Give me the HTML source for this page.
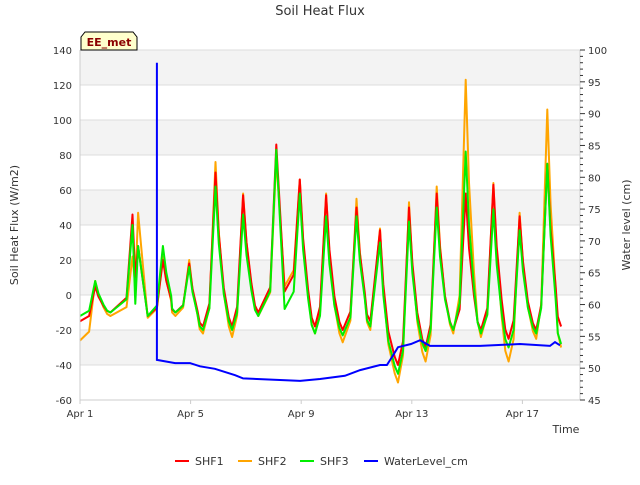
<!DOCTYPE html>
<html><head><meta charset="utf-8"><style>
body{margin:0;background:#fff;font-family:"Liberation Sans","DejaVu Sans",sans-serif}
svg text{font-family:"DejaVu Sans","Liberation Sans",sans-serif}
</style></head><body>
<svg id="chart" width="640" height="480" viewBox="0 0 640 480">
<text x="320" y="15" text-anchor="middle" font-size="13" fill="#333">Soil Heat Flux</text>
<g id="bands"></g>
<g id="grid"></g>
<g id="series"></g>
<g id="axes"></g>
<text transform="translate(18,225) rotate(-90)" text-anchor="middle" font-size="11" fill="#333">Soil Heat Flux (W/m2)</text>
<text transform="translate(630,225) rotate(-90)" text-anchor="middle" font-size="11" fill="#333">Water level (cm)</text>
<text x="566" y="433" text-anchor="middle" font-size="11" fill="#333">Time</text>
<g>
<path d="M81,50 L81,37 L85,32 L133,32 L137,37 L137,50 Z" fill="#ffffcc" stroke="#000" stroke-width="1"/>
<text x="109" y="46" text-anchor="middle" font-size="11" font-weight="bold" fill="#8b0000">EE_met</text>
</g>
<g id="legend"></g>
</svg>
<script>
const yTicks=[-60,-40,-20,0,20,40,60,80,100,120,140];
const rTicks=[45,50,55,60,65,70,75,80,85,90,95,100];
const xTickDays=[0,4,8,12,16];
const xTickLabels=["Apr 1","Apr 5","Apr 9","Apr 13","Apr 17"];
const troughT=[0.0,1.1,2.0,2.45,3.45,4.45,5.5,6.45,7.4,8.5,9.5,10.5,11.5,12.5,13.5,14.5,15.5,16.5];
const peakT=[0.55,1.9,2.1,3.0,3.95,4.9,5.9,7.1,7.95,8.9,10.0,10.85,11.9,12.9,13.95,14.95,15.9,16.9];
const shf1Trough=[-15,-10,10,-12,-10,-18,-18,-10,2,-18,-20,-15,-40,-30,-20,-20,-25,-20];
const shf1Peak=[5,46,28,20,18,70,57,86,66,57,50,37,50,58,58,63,45,75];
const shf2Trough=[-26,-12,5,-13,-12,-22,-24,-12,5,-22,-27,-20,-50,-38,-22,-24,-38,-25];
const shf2Peak=[8,22,47,22,20,76,58,78,66,58,55,38,53,62,123,64,47,106];
const shf3Trough=[-12,-10,-5,-12,-10,-20,-20,-12,-8,-22,-23,-18,-45,-32,-20,-22,-30,-22];
const shf3Peak=[8,40,28,28,16,62,46,83,58,45,45,30,42,50,82,49,37,75];
const endT=17.4;
const endVals=[-18,-30,-28];
const waterT=[2.78,2.78,3.44,3.98,4.34,4.88,5.61,5.9,7.96,8.68,9.58,10.13,10.85,11.1,11.32,11.5,11.97,12.3,12.66,14.47,15.91,17.0,17.18,17.36];
const waterV=[98,51.3,50.8,50.8,50.3,49.9,48.9,48.4,48,48.3,48.8,49.7,50.5,50.5,52,53.3,53.8,54.4,53.5,53.5,53.8,53.5,54.1,53.6];

const L=80,R=580,T=50,B=400,NS="http://www.w3.org/2000/svg";
const xS=d=>L+d*27.65;
const yS=v=>B-(v+60)*(B-T)/200;
const rS=v=>B-(v-45)*(B-T)/55;
function mk(tag,attrs,parent){const e=document.createElementNS(NS,tag);for(const k in attrs)e.setAttribute(k,attrs[k]);parent.appendChild(e);return e;}
const bands=document.getElementById('bands'),grid=document.getElementById('grid'),axes=document.getElementById('axes'),ser=document.getElementById('series'),leg=document.getElementById('legend');
mk('rect',{x:L,y:T,width:R-L,height:B-T,fill:'#fff'},bands);
for(let v=120;v>=-40;v-=40){const r=mk('rect',{x:L,y:yS(v+20),width:R-L,height:yS(v)-yS(v+20),fill:'#f3f3f3'},bands);

}
yTicks.forEach(v=>{const l=mk('line',{x1:L,x2:R,y1:yS(v),y2:yS(v),stroke:'#ddd','stroke-width':1},grid);


const t=mk('text',{x:L-8,y:yS(v)+4,'text-anchor':'end','font-size':10,fill:'#333'},axes);t.textContent=v;

});
mk('line',{x1:L,x2:L,y1:T,y2:B,stroke:'#ccc'},axes);
mk('line',{x1:L,x2:R,y1:B,y2:B,stroke:'#ccc'},axes);
mk('line',{x1:R,x2:R,y1:T,y2:B,stroke:'#ccc'},axes);
for(let v=45;v<=100;v++){mk('line',{x1:R,x2:R+(v%5==0?5:3),y1:rS(v),y2:rS(v),stroke:'#333','stroke-width':1},axes);}
rTicks.forEach(v=>{const t=mk('text',{x:R+8,y:rS(v)+4,'font-size':10,fill:'#333'},axes);t.textContent=v;

});
xTickDays.forEach((d,i)=>{mk('line',{x1:xS(d),x2:xS(d),y1:B,y2:B+4,stroke:'#ccc'},axes);
const t=mk('text',{x:xS(d),y:B+17,'text-anchor':'middle','font-size':10,fill:'#333'},axes);t.textContent=xTickLabels[i];

});
function build(tr,pk,endV){const pts=[];for(let i=0;i<peakT.length;i++){
pts.push([troughT[i],tr[i]]);
if(peakT[i]-troughT[i]>0.35)pts.push([peakT[i]-0.22,tr[i]+0.15*(pk[i]-tr[i])]);
pts.push([peakT[i],pk[i]]);
const nt=i+1<troughT.length?troughT[i+1]:endT,nv=i+1<tr.length?tr[i+1]:endV;
if(nt-peakT[i]>0.4){pts.push([peakT[i]+0.12,nv+0.6*(pk[i]-nv)]);pts.push([peakT[i]+0.3,nv+0.25*(pk[i]-nv)]);pts.push([nt-0.12,nv+0.06*(pk[i]-nv)]);}}
pts.push([endT,endV]);return pts;}
const defs=[['shf1','#ff0000',shf1Trough,shf1Peak,endVals[0]],['shf2','#ffa500',shf2Trough,shf2Peak,endVals[1]],['shf3','#00ee00',shf3Trough,shf3Peak,endVals[2]]];
const order=[1,0,2];
order.forEach(k=>{const d=defs[k];const pts=build(d[2],d[3],d[4]);
const p=mk('polyline',{points:pts.map(q=>xS(q[0]).toFixed(1)+','+yS(q[1]).toFixed(1)).join(' '),fill:'none',stroke:d[1],'stroke-width':2,'stroke-linejoin':'round'},ser);

});
const w=mk('polyline',{points:waterT.map((t,i)=>xS(t).toFixed(1)+','+rS(waterV[i]).toFixed(1)).join(' '),fill:'none',stroke:'#0000ff','stroke-width':2},ser);


const items=[['SHF1','#ff0000',175],['SHF2','#ffa500',238],['SHF3','#00ee00',300],['WaterLevel_cm','#0000ff',364]];
items.forEach(it=>{const g=mk('g',{},leg);


mk('line',{x1:it[2],x2:it[2]+14,y1:461,y2:461,stroke:it[1],'stroke-width':2},g);
const t=mk('text',{x:it[2]+20,y:465,'font-size':11,fill:'#333'},g);t.textContent=it[0];});
</script>
</body></html>
